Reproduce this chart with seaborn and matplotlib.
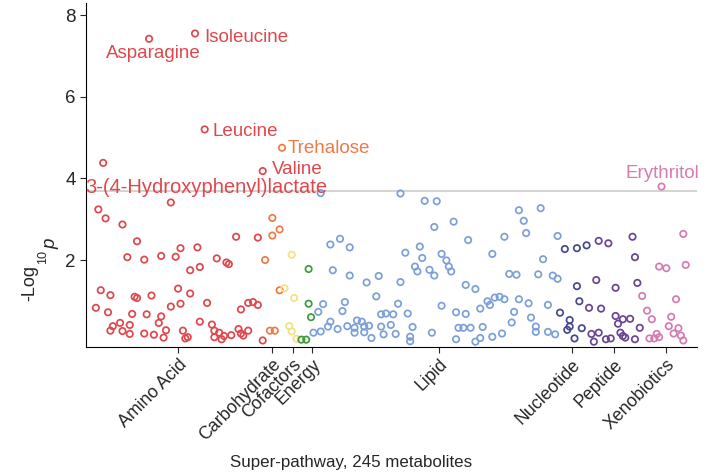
import numpy as np
import pandas as pd
import matplotlib
matplotlib.use('Agg')
import matplotlib.pyplot as plt
import seaborn as sns

# ---- data: metabolite rank along the x axis and -log10 p per super-pathway
pathways = ['Amino Acid', 'Carbohydrate', 'Cofactors', 'Energy',
            'Lipid', 'Nucleotide', 'Peptide', 'Xenobiotics']

aa_x = [1, 2, 3, 4, 5, 6, 7, 7, 8, 11, 12, 12, 14, 15, 15, 16, 17, 18, 18,
        21, 21, 22, 23, 24, 25, 27, 28, 28, 29, 30, 32, 32, 34, 35, 36, 36,
        37, 38, 40, 40, 39, 42, 43, 44, 44, 46, 47, 49, 50, 50, 51, 52, 53,
        54, 55, 56, 57, 59, 60, 61, 61, 62, 64, 64, 66, 68, 68, 70, 70]
aa_y = [0.83, 3.24, 1.26, 4.38, 3.02, 0.72, 1.14, 0.27, 0.38, 0.46, 2.87,
        0.26, 2.07, 0.19, 0.41, 0.68, 1.10, 2.46, 1.07, 2.01, 0.20, 0.67,
        7.42, 1.13, 0.17, 0.46, 2.10, 0.62, 0.10, 0.28, 0.86, 3.41, 2.08,
        1.30, 2.29, 0.93, 0.27, 0.08, 1.75, 1.18, 0.11, 7.55, 2.31, 1.83,
        0.49, 5.20, 0.95, 0.42, 0.11, 0.27, 2.04, 0.22, 0.06, 0.14, 1.94,
        1.90, 0.16, 2.57, 0.31, 0.20, 0.79, 0.15, 0.95, 0.27, 0.97, 2.55,
        0.90, 0.03, 4.18]

carb_x = [71, 73, 74, 74, 75, 77, 77, 78]
carb_y = [2.00, 0.27, 2.60, 3.03, 0.27, 2.75, 1.26, 4.75]

cof_x = [79, 81, 82, 82, 83, 84]
cof_y = [1.31, 0.38, 0.25, 2.13, 1.07, 0.07]

energy_x = [86, 88, 89, 89, 90]
energy_y = [0.05, 0.05, 0.93, 1.78, 0.60]

lipid_x = [91, 93, 94, 94, 95, 97, 98, 98, 99, 101, 102, 103, 104, 105, 106,
           106, 108, 108, 109, 111, 112, 112, 113, 114, 115, 117, 118, 119,
           119, 120, 121, 123, 124, 125, 126, 127, 127, 129, 130, 131, 131,
           132, 133, 134, 135, 136, 137, 139, 140, 141, 141, 142, 144, 144,
           146, 147, 148, 149, 150, 150, 151, 153, 154, 154, 155, 156, 158,
           158, 160, 160, 161, 163, 164, 165, 165, 166, 168, 169, 170, 170,
           172, 173, 174, 175, 176, 176, 178, 179, 180, 181, 183, 183, 184,
           185, 186, 188, 188, 190, 191, 192, 192]
lipid_y = [0.22, 0.73, 3.64, 0.25, 0.92, 0.37, 0.49, 2.38, 1.75, 0.31, 2.52,
           0.75, 0.97, 0.38, 1.62, 2.31, 0.22, 0.34, 0.52, 0.49, 0.37, 0.23,
           1.45, 0.39, 0.09, 1.11, 1.61, 0.37, 0.67, 0.18, 0.69, 0.41, 0.67,
           0.19, 0.93, 1.46, 3.63, 2.18, 0.69, 0.12, 0.01, 0.36, 1.84, 1.72,
           2.33, 2.05, 3.45, 1.76, 0.22, 1.62, 2.81, 3.44, 2.15, 0.88, 1.99,
           1.84, 1.72, 2.94, 0.06, 0.72, 0.34, 0.34, 1.39, 0.68, 2.49, 0.34,
           0.00, 1.29, 0.09, 0.81, 0.36, 0.99, 0.90, 0.12, 2.15, 1.08, 1.10,
           0.20, 1.04, 2.57, 1.66, 0.47, 0.73, 1.64, 1.04, 3.22, 2.96, 2.66,
           0.94, 0.59, 0.24, 0.37, 1.65, 3.27, 2.02, 0.24, 0.90, 1.62, 0.18,
           2.59, 1.54]

nuc_x = [193, 195, 196, 197, 197, 199, 200, 200, 201, 202, 204]
nuc_y = [0.71, 2.27, 0.29, 0.37, 0.53, 0.08, 2.29, 1.36, 0.99, 0.33, 2.36]

pep_x = [205, 206, 207, 208, 209, 209, 210, 212, 213, 214, 216, 216, 217,
         218, 219, 219, 220, 222, 223, 224, 224, 225, 226]
pep_y = [0.83, 0.19, 0.00, 1.51, 2.47, 0.22, 0.81, 0.06, 2.41, 0.08, 1.32,
         0.63, 0.44, 0.22, 0.55, 0.14, 0.10, 0.56, 2.57, 2.07, 0.06, 1.44,
         0.34]

xeno_x = [227, 229, 230, 231, 232, 233, 234, 234, 235, 237, 238, 239, 240,
          241, 242, 243, 244, 244, 245]
xeno_y = [1.12, 0.76, 0.08, 0.55, 0.08, 0.19, 1.84, 0.11, 3.80, 1.80, 0.38,
          0.61, 0.20, 1.04, 0.33, 0.15, 0.03, 2.64, 1.88]

# tick position of each super-pathway label (metabolite rank)
tick_pos = [35, 74, 82.5, 90.5, 143, 198, 215.5, 237]

threshold = 3.7

# labelled metabolites and the point (rank) they belong to
hit_names = ['Asparagine', 'Isoleucine', 'Leucine', 'Trehalose', 'Valine',
             '3-(4-Hydroxyphenyl)lactate', 'Erythritol']
hit_x = [23, 42, 46, 78, 70, 4, 235]

colors = {'Amino Acid': '#e0474c', 'Carbohydrate': '#ee7a47',
          'Cofactors': '#f4e17f', 'Energy': '#3e9a3c', 'Lipid': '#7c9fd9',
          'Nucleotide': '#45488b', 'Peptide': '#6a4494',
          'Xenobiotics': '#d47cb2'}

xs = [aa_x, carb_x, cof_x, energy_x, lipid_x, nuc_x, pep_x, xeno_x]
ys = [aa_y, carb_y, cof_y, energy_y, lipid_y, nuc_y, pep_y, xeno_y]
df = pd.concat([pd.DataFrame({'rank': x, 'logp': y, 'pathway': p})
                for p, x, y in zip(pathways, xs, ys)], ignore_index=True)

sns.set_style('ticks')
plt.rcParams['font.family'] = ['Liberation Sans', 'DejaVu Sans']

fig = plt.figure(figsize=(7.06, 4.75), dpi=100)
ax = fig.add_axes([0.1218, 0.2695, 0.8652, 0.7245])

sns.scatterplot(data=df, x='rank', y='logp', hue='pathway', palette=colors,
                hue_order=pathways, s=21, linewidth=1.25, legend=False, ax=ax)
coll = ax.collections[0]
coll.set_edgecolors(coll.get_facecolors())
coll.set_facecolors('none')

ax.axhline(threshold, color='#d4d4d4', lw=1.5, zorder=0)

# text placement of the labelled metabolites (data coords)
label_pos = {'Asparagine': (24.6, 7.07, 'center'),
             'Isoleucine': (45.7, 7.45, 'left'),
             'Leucine': (49.4, 5.16, 'left'),
             'Trehalose': (80.4, 4.74, 'left'),
             'Valine': (73.8, 4.21, 'left'),
             '3-(4-Hydroxyphenyl)lactate': (46.5, 3.78, 'center'),
             'Erythritol': (235.5, 4.12, 'center')}
for name, hx in zip(hit_names, hit_x):
    grp = df.loc[(df['rank'] == hx) & (df['logp'] > threshold), 'pathway'].iloc[0]
    tx, ty, ha = label_pos[name]
    fs = 14.5 if name.startswith('3-') else 13.5
    ax.text(tx, ty, name, color=colors[grp], fontsize=fs, ha=ha,
            va='center', clip_on=False)

ax.set_xlim(-3.1, 249.6)
ax.set_ylim(-0.13, 8.3)
ax.set_yticks([2, 4, 6, 8])
ax.set_xticks(tick_pos)
ax.set_xticklabels(pathways, rotation=45, ha='right', rotation_mode='anchor',
                   fontsize=12.8)
ax.tick_params(axis='y', labelsize=13.5, length=4.5, width=0.8, pad=3)
ax.tick_params(axis='x', length=4.5, width=0.8, pad=2)
sns.despine(ax=ax)
for s in ['left', 'bottom']:
    ax.spines[s].set_linewidth(0.8)
    ax.spines[s].set_color('black')

ax.set_xlabel('Super-pathway, 245 metabolites', fontsize=12.2)
ax.xaxis.set_label_coords(0.434, -0.337)
ax.xaxis.label.set_va('center')
ax.set_ylabel('')
fig.text(30 / 706, 1 - 283 / 475, '-Log', rotation=90, fontsize=13,
         ha='center', va='center')
fig.text(43 / 706, 1 - 257 / 475, '10', rotation=90, fontsize=9,
         ha='center', va='center')
fig.text(51 / 706, 1 - 244 / 475, 'p', rotation=90, fontsize=13.5,
         style='italic', ha='center', va='center')

fig.savefig('out.png', dpi=100)
